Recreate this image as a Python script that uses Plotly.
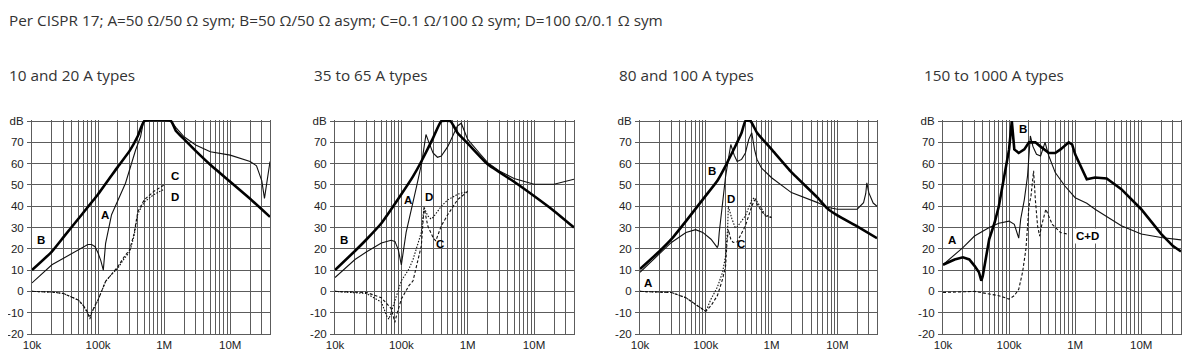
import math
import plotly.graph_objects as go

k = 1e3
M = 1e6

# ---------------- Panel 1: 10 and 20 A types ----------------
p1_B_f = [10*k, 20*k, 30*k, 50*k, 100*k, 200*k, 300*k, 400*k, 500*k, 1.27*M, 1.5*M, 2*M, 3*M, 5*M, 10*M, 20*M, 40*M]
p1_B = [10, 18.7, 25.5, 34, 45.6, 58.6, 66, 73, 80, 80, 75.5, 71.5, 66, 59.5, 51.5, 43.5, 35]
p1_A_f = [10*k, 15*k, 20*k, 30*k, 50*k, 70*k, 80*k, 90*k, 100*k, 110*k, 120*k, 125*k, 130*k, 160*k, 260*k, 370*k, 440*k, 490*k,
          1.27*M, 1.5*M, 2*M, 3*M, 5*M, 10*M, 20*M, 25*M, 30*M, 33*M, 36*M, 40*M]
p1_A = [4, 9, 12.5, 15.6, 19.5, 22, 22, 21, 18, 14.5, 10, 16, 22.6, 36, 50.8, 66.4, 72.7, 80,
        80, 77, 72.6, 68.8, 65.6, 64, 61, 59, 52, 43.7, 52, 61]
p1_C_f = [10*k, 20*k, 30*k, 50*k, 60*k, 70*k, 75*k, 80*k, 90*k, 100*k, 130*k, 150*k, 200*k, 250*k, 300*k, 350*k, 400*k, 500*k, 700*k, 1*M]
p1_C = [0, -0.3, -1, -4, -6.7, -10, -13, -10, -6.5, -4, 4.7, 7, 11.7, 16.4, 19.5, 27, 37.5, 43, 47, 50]
p1_D_f = [10*k, 20*k, 30*k, 50*k, 60*k, 70*k, 75*k, 80*k, 90*k, 100*k, 130*k, 150*k, 200*k, 250*k, 300*k, 350*k, 400*k, 500*k, 700*k, 1*M]
p1_D = [0, -0.3, -1, -4, -6.7, -10, -12, -10, -6.5, -4, 4.7, 7, 11, 15.5, 18.5, 26, 36.5, 42, 45.5, 48]

# ---------------- Panel 2: 35 to 65 A types ----------------
p2_B_f = [10*k, 20*k, 30*k, 50*k, 100*k, 150*k, 200*k, 300*k, 400*k, 550*k, 700*k, 1*M, 2*M, 5*M, 10*M, 20*M, 40*M]
p2_B = [10, 19, 24.5, 32, 45.6, 54, 61, 72, 80, 80, 74.5, 69.5, 59.7, 51.5, 44.8, 37.8, 30]
p2_A_f = [10*k, 20*k, 30*k, 50*k, 70*k, 80*k, 90*k, 100*k, 118*k, 143*k, 170*k, 203*k, 235*k, 260*k, 300*k, 350*k, 400*k,
          500*k, 600*k, 700*k, 800*k, 900*k, 1*M, 1.5*M, 2*M, 3*M, 5*M, 10*M, 20*M, 40*M]
p2_A = [6.5, 15, 18.6, 22.7, 24, 23.5, 19.5, 12.5, 27.7, 38.6, 49.5, 60.5, 73.7, 70, 65, 63, 63.6,
        68, 73, 77.7, 79, 75, 71.4, 65, 60.5, 56.6, 53, 50.3, 50.3, 52.7]
p2_C_f = [10*k, 30*k, 50*k, 70*k, 80*k, 85*k, 100*k, 130*k, 150*k, 170*k, 200*k, 220*k, 250*k, 300*k, 330*k, 400*k, 500*k, 700*k, 1*M]
p2_C = [0, -0.5, -3, -8, -14.5, -11, -3.6, 2.7, 5, 12, 21.4, 39.5, 30.8, 25.3, 23.7, 30.8, 36, 43, 47]
p2_D_f = [10*k, 30*k, 50*k, 60*k, 65*k, 70*k, 80*k, 100*k, 130*k, 150*k, 180*k, 200*k, 220*k, 250*k, 280*k, 300*k, 400*k, 500*k, 700*k, 1*M]
p2_D = [0, -1, -5, -11.4, -13, -10, -3.6, 5, 10.5, 15, 23, 27.7, 39.5, 35.5, 34, 34.7, 40, 43, 45.6, 47]

# ---------------- Panel 3: 80 and 100 A types ----------------
p3_B_f = [10*k, 20*k, 30*k, 50*k, 100*k, 150*k, 200*k, 250*k, 300*k, 350*k, 400*k, 480*k, 600*k, 1*M, 2*M, 5*M, 7*M, 10*M, 20*M, 40*M]
p3_B = [10.5, 19, 24.5, 33, 45, 52, 59, 65, 70, 74.5, 80, 80, 74.5, 66.7, 56, 44, 39, 35.7, 30.5, 25]
p3_A_f = [10*k, 20*k, 30*k, 50*k, 70*k, 90*k, 120*k, 150*k, 155*k, 160*k, 180*k, 200*k, 220*k, 240*k, 270*k, 300*k, 350*k,
          400*k, 450*k, 500*k, 550*k, 600*k, 700*k, 1*M, 2*M, 5*M, 7*M, 10*M, 20*M, 25*M, 27*M, 28*M, 30*M, 35*M, 40*M]
p3_A = [9, 18, 23, 27.7, 29, 27.7, 24.5, 20.6, 22, 27.7, 42, 54, 62, 69, 64, 61, 62,
        65, 71.4, 74.5, 66.7, 62, 58, 53.4, 46.4, 41.7, 39.5, 38.6, 38.6, 41.7, 46, 51, 46.4, 41.5, 40]
p3_C_f = [10*k, 30*k, 50*k, 70*k, 100*k, 120*k, 150*k, 180*k, 200*k, 210*k, 220*k, 240*k, 260*k, 300*k, 400*k, 500*k, 550*k, 700*k, 800*k, 1*M]
p3_C = [0, -0.5, -3, -6, -9.4, -6.7, -2, 5.8, 12, 23, 29, 24.5, 23, 23.3, 30.8, 40, 43, 37.8, 35.5, 34.7]
p3_D_f = [10*k, 30*k, 50*k, 70*k, 100*k, 120*k, 150*k, 180*k, 200*k, 215*k, 220*k, 250*k, 280*k, 300*k, 400*k, 500*k, 550*k, 700*k, 800*k, 1*M]
p3_D = [0, -0.5, -3, -6, -9.4, -3.6, 2, 9, 16.7, 30, 40, 34, 30, 30.3, 35.5, 43, 44, 39, 36, 34.7]

# ---------------- Panel 4: 150 to 1000 A types ----------------
p4_B_f = [10*k, 15*k, 20*k, 25*k, 30*k, 35*k, 38*k, 40*k, 50*k, 60*k, 70*k, 80*k, 90*k, 100*k, 110*k, 115*k, 120*k, 140*k, 170*k,
          200*k, 250*k, 300*k, 400*k, 500*k, 600*k, 800*k, 900*k, 1*M, 1.5*M, 2*M, 3*M, 5*M, 10*M, 20*M, 30*M, 40*M]
p4_B = [12.5, 15, 16, 15, 12, 9, 5, 7.3, 24.5, 32, 40, 49.5, 59, 66.7, 80, 72, 66.7, 65, 66.7,
        70, 70, 68, 65, 65, 66.7, 70, 69, 64.4, 52.7, 53.5, 53, 48, 38.6, 27, 21.4, 18.75]
p4_A_f = [10*k, 20*k, 30*k, 50*k, 70*k, 100*k, 120*k, 140*k, 150*k, 170*k, 190*k, 210*k, 230*k, 260*k, 300*k, 350*k, 400*k,
          500*k, 700*k, 1*M, 1.5*M, 2*M, 5*M, 10*M, 20*M, 40*M]
p4_A = [12.5, 20.6, 26, 30, 32, 33, 31.5, 25, 34, 43, 54, 73, 68, 64.4, 63.6, 70, 63.6,
        55.8, 49.5, 44, 41.4, 38.6, 30.8, 27, 25.3, 24.2]
p4_CD_f = [10*k, 30*k, 50*k, 70*k, 100*k, 120*k, 140*k, 160*k, 180*k, 200*k, 215*k, 235*k, 250*k, 270*k, 290*k, 310*k, 360*k, 450*k, 600*k, 750*k]
p4_CD = [-0.5, 0, -1.2, -2, -3.6, -2, 1, 9, 20, 40, 45, 56.6, 43, 30.8, 26, 30.8, 38.6, 31.5, 27.7, 27]

main_title = "Per CISPR 17; A=50 Ω/50 Ω sym; B=50 Ω/50 Ω asym; C=0.1 Ω/100 Ω sym; D=100 Ω/0.1 Ω sym"
panel_titles = ["10 and 20 A types", "35 to 65 A types", "80 and 100 A types", "150 to 1000 A types"]
x_tick_labels = ["10k", "100k", "1M", "10M"]
y_tick_values = [-20, -10, 0, 10, 20, 30, 40, 50, 60, 70, 80]
y_tick_labels = ["-20", "-10", "0", "10", "20", "30", "40", "50", "60", "70", "dB"]

# curve labels: (panel, text, freq, dB)
curve_labels = [
    (1, "B", 13.7*k, 24), (1, "A", 126*k, 36), (1, "C", 1.48*M, 54), (1, "D", 1.48*M, 44.3),
    (2, "B", 13.7*k, 24), (2, "A", 128*k, 43), (2, "D", 260*k, 44.3), (2, "C", 385*k, 22.3),
    (3, "A", 13.2*k, 4), (3, "B", 123*k, 56.5), (3, "D", 240*k, 43.4), (3, "C", 340*k, 22.3),
    (4, "A", 13.7*k, 24.1), (4, "B", 163*k, 76.2), (4, "C+D", 1.55*M, 26),
]

panels = [
    [(p1_A_f, p1_A, "A"), (p1_B_f, p1_B, "B"), (p1_C_f, p1_C, "C"), (p1_D_f, p1_D, "D")],
    [(p2_A_f, p2_A, "A"), (p2_B_f, p2_B, "B"), (p2_C_f, p2_C, "C"), (p2_D_f, p2_D, "D")],
    [(p3_A_f, p3_A, "A"), (p3_B_f, p3_B, "B"), (p3_C_f, p3_C, "C"), (p3_D_f, p3_D, "D")],
    [(p4_A_f, p4_A, "A"), (p4_B_f, p4_B, "B4"), (p4_CD_f, p4_CD, "C")],
]

styles = {
    "A": dict(color="#111111", width=1.1),
    "B": dict(color="#000000", width=2.6, shape="spline", smoothing=0.4),
    "B4": dict(color="#000000", width=2.6),
    "C": dict(color="#111111", width=1.1, dash="3px,2px"),
    "D": dict(color="#111111", width=1.1, dash="1.5px,1.5px"),
}

# page is offset by the browser's 8px body margin; figure sized to fit the window
OFF = 8
W, H = 1200 - OFF, 362 - OFF
x_px = [(32, 270), (335, 574), (640, 877), (943, 1181)]
y_top_px, y_bot_px = 120, 334
title_x_px = [10, 315, 620, 925]


def px_x(p):
    return (p - OFF) / W


def px_y(p):
    return 1 - (p - OFF) / H


fmax = 40*M
grid_vals = []
for d in range(4, 8):
    for m in range(1, 10):
        v = m * 10**d
        if v <= fmax * 1.0001:
            grid_vals.append(v)
grid_text = []
for v in grid_vals:
    lv = math.log10(v)
    if abs(lv - round(lv)) < 1e-9:
        grid_text.append(x_tick_labels[int(round(lv)) - 4])
    else:
        grid_text.append("")

fig = go.Figure()
grid_color = "#5c5c5c"
tick_font = dict(family="Liberation Sans, Arial, sans-serif", size=11.5, color="#222222")

for i, curves in enumerate(panels):
    n = i + 1
    xa = "x" if n == 1 else f"x{n}"
    ya = "y" if n == 1 else f"y{n}"
    for f, v, name in curves:
        fig.add_trace(go.Scatter(x=f, y=v, mode="lines", line=styles[name],
                                 xaxis=xa, yaxis=ya, showlegend=False, hoverinfo="skip"))
    x0, x1 = x_px[i]
    fig.layout[f"xaxis{'' if n == 1 else n}"] = dict(
        type="log", range=[4, math.log10(fmax)], domain=[px_x(x0), px_x(x1)], anchor=ya,
        tickvals=grid_vals, ticktext=grid_text, showgrid=True, gridcolor=grid_color, gridwidth=1,
        showline=True, linecolor=grid_color, linewidth=1, ticks="", zeroline=False,
        tickfont=tick_font, ticklabelstandoff=0, automargin=False,
    )
    fig.layout[f"yaxis{'' if n == 1 else n}"] = dict(
        range=[-20, 80.5], domain=[px_y(y_bot_px), px_y(y_top_px)], anchor=xa,
        tickvals=y_tick_values, ticktext=y_tick_labels, showgrid=True, gridcolor=grid_color, gridwidth=1,
        showline=True, mirror=True, linecolor=grid_color, linewidth=1, ticks="outside", ticklen=4,
        tickcolor=grid_color, zeroline=False, tickfont=tick_font, ticklabelstandoff=1, automargin=False,
    )

title_font = dict(family="Open Sans, sans-serif", size=15.3, color="#333333")
annotations = [dict(text=main_title, x=px_x(10 - 3), y=px_y(20), xref="paper", yref="paper",
                    xanchor="left", yanchor="middle", showarrow=False, font=title_font)]
for i, t in enumerate(panel_titles):
    annotations.append(dict(text=t, x=px_x(title_x_px[i] - 3), y=px_y(75), xref="paper", yref="paper",
                            xanchor="left", yanchor="middle", showarrow=False, font=title_font))
for n, t, f, v in curve_labels:
    annotations.append(dict(text=f"<b>{t}</b>", x=math.log10(f), y=v,
                            xref="x" if n == 1 else f"x{n}", yref="y" if n == 1 else f"y{n}",
                            showarrow=False, xanchor="center", yanchor="middle",
                            bgcolor="white" if t == "C+D" else None,
                            font=dict(family="Liberation Sans, Arial, sans-serif", size=11.5, color="#000000")))

fig.update_layout(width=W, height=H, margin=dict(l=0, r=0, t=0, b=0, autoexpand=False),
                  paper_bgcolor="white", plot_bgcolor="white", annotations=annotations)

fig.write_html("out.html")
